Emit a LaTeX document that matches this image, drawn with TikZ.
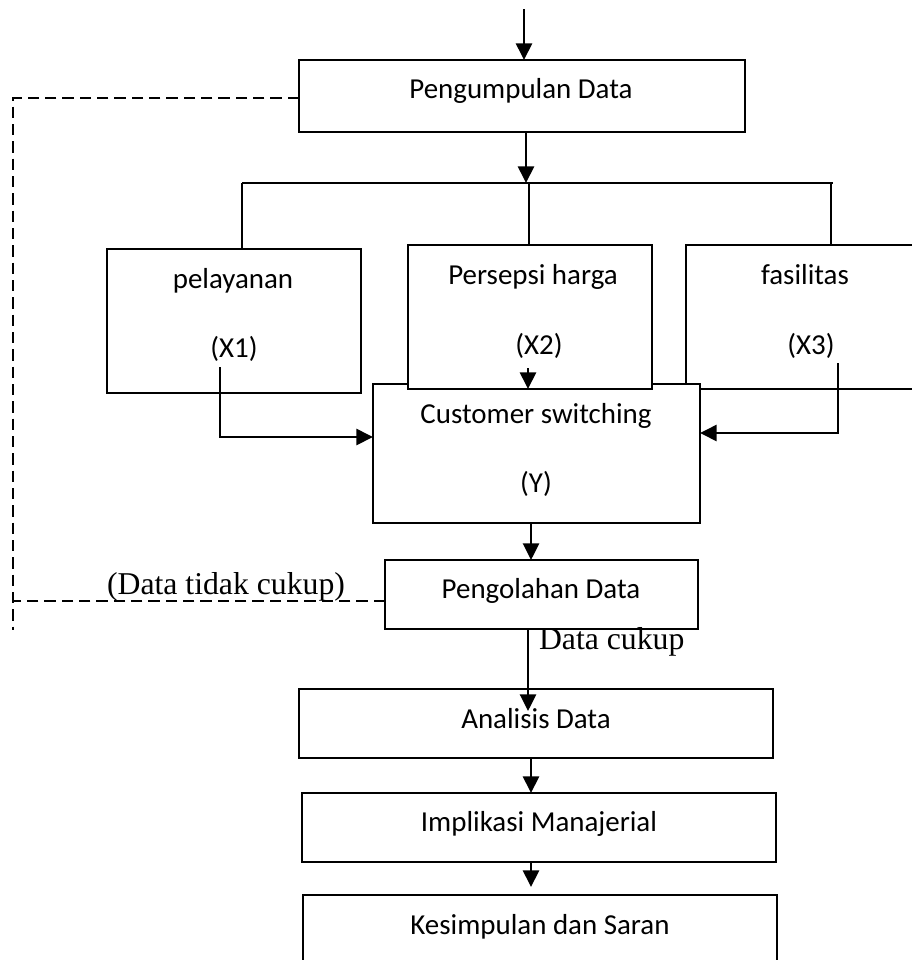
\documentclass[tikz,border=0pt]{standalone}
\usepackage{fontspec}
\newfontfamily\carl{Carlito}
\newfontfamily\tnr{Liberation Serif}
\usetikzlibrary{arrows.meta,calc}
\begin{document}
\begin{tikzpicture}[x=0.75pt,y=-0.75pt,
  box/.style={draw,line width=1.5pt,fill=white,rectangle,inner sep=0pt,outer sep=0pt},
  lbl/.style={inner sep=0pt,outer sep=0pt,anchor=base,font=\carl\fontsize{21.7pt}{26pt}\selectfont},
  tlbl/.style={inner sep=0pt,outer sep=0pt,font=\tnr\fontsize{23.8pt}{28pt}\selectfont},
  arr/.style={line width=2pt,-{Triangle[length=12.5pt,width=12pt]}},
  busline/.style={line width=1.4pt},
  dropline/.style={line width=1pt},
  fbline/.style={line width=2.2pt,dash pattern=on 8.5pt off 4.5pt}]
\clip (0,0) rectangle (912,960);

% boxes (drawing order matters for overlaps)
\node[box,minimum width=334.5pt,minimum height=54pt] (P1) at (522,96) {};
\node[box,minimum width=190.5pt,minimum height=108pt] (pel) at (234,321) {};
\node[box,minimum width=186.75pt,minimum height=108pt] (fas) at (810.5,317) {};
\node[box,minimum width=245.25pt,minimum height=104.25pt] (cust) at (536.5,453.5) {};
\node[box,minimum width=183pt,minimum height=108pt] (pers) at (530,317) {};
\node[box,minimum width=234.75pt,minimum height=51.75pt] (pol) at (541.5,594.5) {};
\node[box,minimum width=355.5pt,minimum height=51.75pt] (ana) at (536,723.5) {};
\node[box,minimum width=355.5pt,minimum height=51.75pt] (imp) at (539,827.5) {};
\node[box,minimum width=355.5pt,minimum height=51.75pt] (kes) at (540,929.5) {};

% texts
\node[lbl] (tP1) at (521,98) {Pengumpulan Data};
\node[lbl] (tpel) at (233,288) {pelayanan};
\node[lbl] (tx1) at (234,357) {(X1)};
\node[lbl] (tpers) at (533,284) {Persepsi harga};
\node[lbl] (tx2) at (539,354) {(X2)};
\node[lbl] (tfas) at (805,284) {fasilitas};
\node[lbl] (tx3) at (811,354) {(X3)};
\node[lbl] (tcust) at (536,423) {Customer switching};
\node[lbl] (ty) at (536,492) {(Y)};
\node[lbl] (tpol) at (541,598) {Pengolahan Data};
\node[lbl] (tana) at (536,728) {Analisis Data};
\node[lbl] (timp) at (539,831) {Implikasi Manajerial};
\node[lbl] (tkes) at (540,934) {Kesimpulan dan Saran};
\node[tlbl,anchor=base] (tdtc) at (226,594) {(Data tidak cukup)};
\node[tlbl,anchor=base west] (tdc) at (539,649) {Data cukup};

% coordinates
\coordinate (start) at (524,9);
\coordinate (busL) at (242,183);
\coordinate (busM) at (529,183);
\coordinate (busR) at (831,183);
\coordinate (busE) at (833,183);
\coordinate (x1s) at (220,367);
\coordinate (x2s) at (528,368);
\coordinate (x3s) at (838,363);
\coordinate (dl) at (13,98);
\coordinate (db) at (13,630);
\coordinate (c0) at ([xshift=3pt]P1.south);
\coordinate (c1) at ([xshift=-4.1pt]cust.south);
\coordinate (c2) at ([xshift=-10.1pt]pol.south);
\coordinate (c3) at ([xshift=-3.75pt]ana.south);
\coordinate (c4) at ([xshift=-6pt]imp.south);
\coordinate (pw) at ($(pol.west)+(0,6.5)$);
\coordinate (p1w) at ($(P1.west)+(0,2)$);

% connectors
\draw[arr] (start) -- (start |- P1.north);
\draw[arr] (c0) -- (c0 |- busM);
\draw[busline] (busL) -- (busE);
\draw[busline] (busL) -- (busL |- pel.north);
\draw[dropline] (busM) -- (busM |- pers.north);
\draw[dropline] (busR) -- (busR |- fas.north);

\draw[arr] (x1s) |- ($(cust.west)+(0,-16.5)$);
\draw[arr] (x2s) -- (x2s |- pers.south);
\draw[arr] (x3s) |- ($(cust.east)+(0,-20.5)$);

\draw[arr] (c1) -- (c1 |- pol.north);
\draw[arr] (c2) -- ($(c2 |- ana.north)+(0,22)$);
\draw[arr] (c3) -- (c3 |- imp.north);
\draw[arr] (c4) -- ($(c4 |- kes.north)+(0,-8)$);

% feedback (dashed)
\draw[fbline] (p1w) -- (dl) -- (db);
\draw[fbline] (pw) -- (pw -| dl);
\end{tikzpicture}
\end{document}
